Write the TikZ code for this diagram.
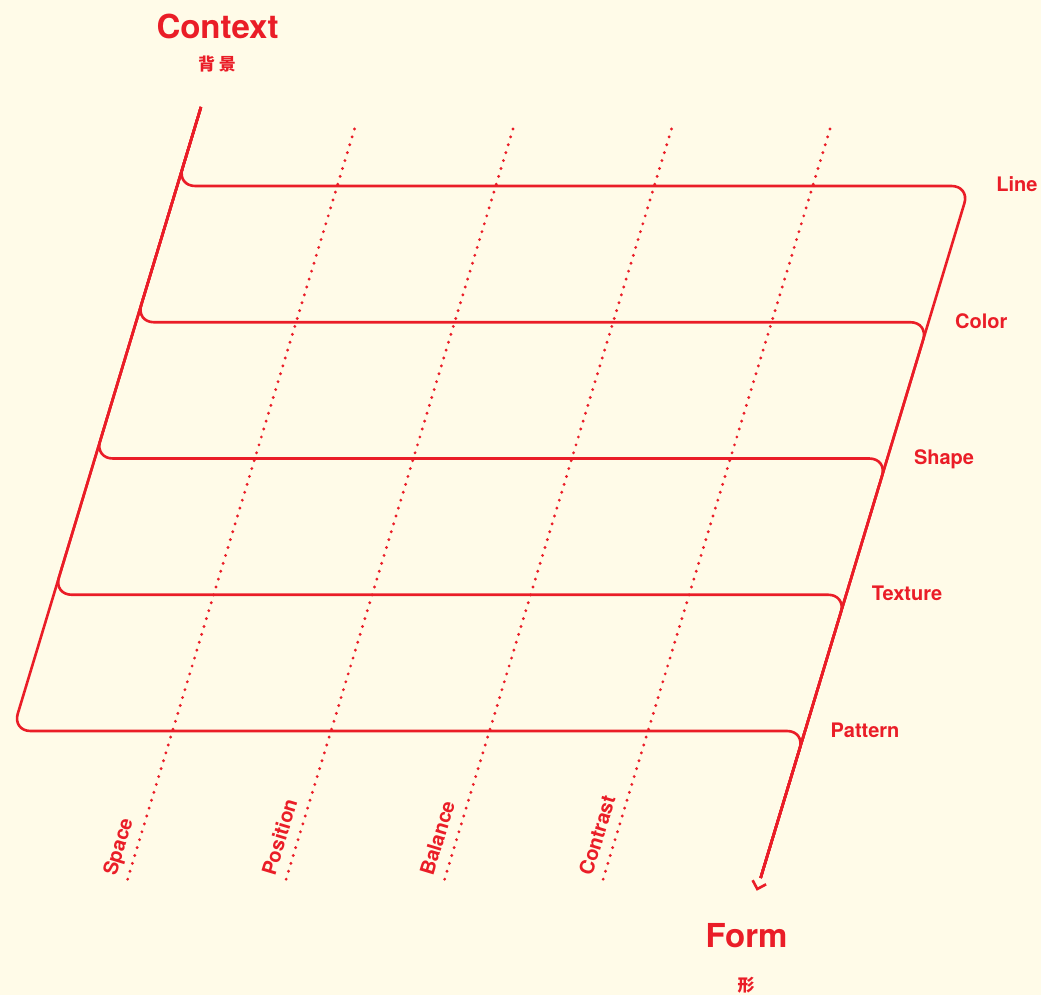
\documentclass[tikz,border=0pt]{standalone}
\usepackage{fontspec}
\setmainfont{TeX Gyre Heros}
\newfontfamily\cjk{Noto Sans CJK SC}
\usetikzlibrary{calc}
\definecolor{bg}{HTML}{FFFBE8}
\definecolor{rd}{HTML}{EA1D27}
\begin{document}
\begin{tikzpicture}[x=1pt,y=-1pt,
  mainline/.style={draw=rd, line width=2.6pt, rounded corners=18pt},
  tipline/.style={draw=rd, line width=2.6pt},
  dotline/.style={draw=rd, line width=3.2pt, line cap=round, dash pattern=on 0pt off 8.25pt},
  rowlabel/.style={text=rd, font=\fontsize{20}{20}\selectfont\bfseries, anchor=base west, inner sep=0pt},
  collabel/.style={rowlabel, rotate=73.2},
  title/.style={text=rd, font=\fontsize{33}{33}\selectfont\bfseries, anchor=base, inner sep=0pt},
  subtitle/.style={text=rd, font=\cjk\bfseries\fontsize{17}{17}\selectfont, anchor=base, inner sep=0pt}]
\fill[bg] (0,0) rectangle (1041,995);
\useasboundingbox (0,0) rectangle (1041,995);

% main zigzag
\coordinate (top) at (201,107);
\coordinate (L1) at (177.14,186);
\coordinate (L2) at (135.99,322.25);
\coordinate (L3) at (94.85,458.5);
\coordinate (L4) at (53.70,594.75);
\coordinate (L5) at (12.55,731);
\coordinate (R1) at (969.59,186);
\coordinate (R2) at (928.44,322.25);
\coordinate (R3) at (887.30,458.5);
\coordinate (R4) at (846.15,594.75);
\coordinate (R5) at (805,731);
\coordinate (E) at (760.6,878);
\coordinate (T) at (757.3,889);
\coordinate (TA) at (766.1,884.3);
\coordinate (TB) at (752.6,880.2);

\foreach \k in {1,...,5}{
  \draw[mainline] (top) -- (L\k) -- (R\k) -- (E);
}
\draw[tipline] (TA) -- (T) -- (TB);

% dotted lines
\coordinate (D1t) at (354.5,129); \coordinate (D1b) at (127.4,880);
\coordinate (D2t) at (513,129);   \coordinate (D2b) at (285.9,880);
\coordinate (D3t) at (671.5,129); \coordinate (D3b) at (444.4,880);
\coordinate (D4t) at (830,129);   \coordinate (D4b) at (602.9,880);
\foreach \k in {1,...,4}{
  \draw[dotline] (D\k t) -- (D\k b);
}

% row labels
\node[rowlabel] (lLine) at (996.1,192) {Line};
\node[rowlabel] (lColor) at (954.9,328.25) {Color};
\node[rowlabel] (lShape) at (913.8,464.5) {Shape};
\node[rowlabel] (lTexture) at (871.6,600.75) {Texture};
\node[rowlabel] (lPattern) at (830.5,737) {Pattern};

% column labels
\node[collabel] (cSpace) at (116,877) {Space};
\node[collabel] (cPosition) at (275,877) {Position};
\node[collabel] (cBalance) at (433,877) {Balance};
\node[collabel] (cContrast) at (592,877) {Contrast};

% titles
\node[title] (context) at (217.5,39) {Context};
\node[subtitle] (contextcn) at (217,71) {背\hspace{4pt}景};
\node[title] (form) at (746.5,947) {Form};
\node[subtitle] (formcn) at (746,991) {形};
\end{tikzpicture}
\end{document}
